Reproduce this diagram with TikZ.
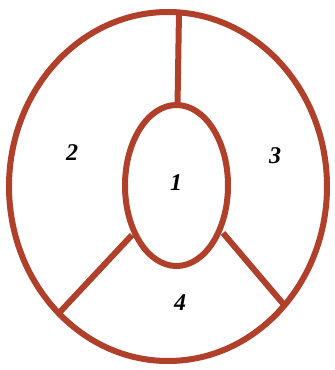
\documentclass[tikz,border=0pt]{standalone}
\usepackage{fontspec}
\setmainfont{Liberation Serif}
\definecolor{brick}{HTML}{B0402A}

\begin{document}
\begin{tikzpicture}[x=1pt,y=-1pt,
    wall/.style={draw=brick,line width=6pt},
    region/.style={font=\fontsize{24}{24}\selectfont\bfseries\itshape}]
  \useasboundingbox[fill=white] (0,0) rectangle (335,370);
  % outer ring and inner oval
  \coordinate (oc) at (168,186.5);
  \coordinate (ic) at (176.5,185.5);
  \draw[wall] (oc) ellipse[x radius=159,y radius=174.5];
  \draw[wall] (ic) ellipse[x radius=51.5,y radius=80.5];

  % the three walls between the regions
  \coordinate (top) at (179,12);
  \coordinate (itop) at (177.5,106);
  \coordinate (bl) at (59,313);
  \coordinate (ibl) at (132,235);
  \coordinate (br) at (285,306);
  \coordinate (ibr) at (223,233);
  \draw[wall] (top) -- (itop);
  \draw[wall] (ibl) -- (bl);
  \draw[wall] (ibr) -- (br);

  \node[region] (r1) at (176,183) {1};
  \node[region] (r2) at (72,153) {2};
  \node[region] (r3) at (275,156) {3};
  \node[region] (r4) at (180,303) {4};
\end{tikzpicture}
\end{document}
